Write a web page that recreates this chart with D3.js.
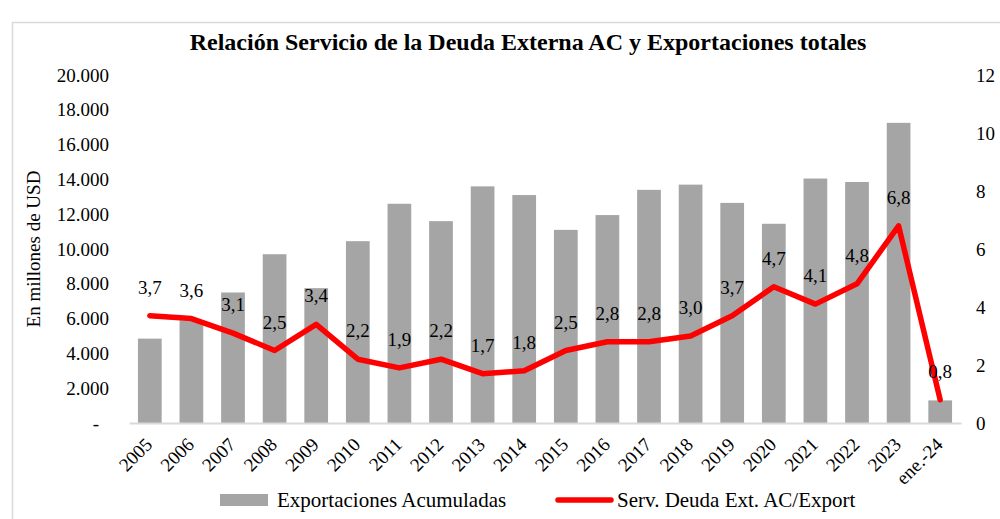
<!DOCTYPE html>
<html><head><meta charset="utf-8">
<script src="https://cdn.jsdelivr.net/npm/d3@7"></script>
<style>body{margin:0;background:#fff}svg{display:block}svg text{font-family:"Liberation Serif","Times New Roman",serif !important;fill:#000}</style>
</head><body><svg id="c" width="1000" height="519"></svg>
<script>
const categories = ["2005","2006","2007","2008","2009","2010","2011","2012","2013","2014","2015","2016","2017","2018","2019","2020","2021","2022","2023","ene.-24"];
const exportaciones = [4850,5900,7500,9700,7750,10450,12600,11600,13600,13100,11100,11950,13400,13700,12650,11450,14050,13850,17250,1300];
const ratio = [3.7,3.6,3.1,2.5,3.4,2.2,1.9,2.2,1.7,1.8,2.5,2.8,2.8,3.0,3.7,4.7,4.1,4.8,6.8,0.8];
const leftTicks = [0,2000,4000,6000,8000,10000,12000,14000,16000,18000,20000];
const rightTicks = [0,2,4,6,8,10,12];
const title = "Relación Servicio de la Deuda Externa AC y Exportaciones totales";
const yTitle = "En millones de USD";
const legendLabels = ["Exportaciones Acumuladas","Serv. Deuda Ext. AC/Export"];

const FF = '"Liberation Serif","Times New Roman",serif';
const svg = d3.select("#c").attr("font-family",FF);
const L = 129, R = 961, T = 75, B = 423;
svg.append("rect").attr("x",12.5).attr("y",22.5).attr("width",1000).attr("height",520)
  .attr("fill","#fff").attr("stroke","#d9d9d9").attr("stroke-width",1.5);

const x = d3.scaleBand().domain(categories).range([L,R]).paddingInner(0.43).paddingOuter(0.215);
const yL = d3.scaleLinear().domain([0,20000]).range([B,T]);
const yR = d3.scaleLinear().domain([0,12]).range([B,T]);
const fmt = v => v===0 ? "-" : d3.format(",")(v).replace(/,/g,".");

svg.append("text").attr("x",528).attr("y",50).attr("text-anchor","middle").attr("font-family",FF)
  .style("font-size","24px").style("font-weight","bold").text(title);

// left axis
const gl = svg.append("g").attr("transform",`translate(${L},0)`)
  .call(d3.axisLeft(yL).tickValues(leftTicks).tickFormat(fmt).tickSize(0).tickPadding(20));
gl.attr("font-family",FF);
gl.select(".domain").remove();
gl.selectAll("text").style("font-size","19px").attr("dy","0.32em")
  .attr("dx", d => d===0 ? -10 : 0);

// right axis
const gr = svg.append("g").attr("transform",`translate(${R},0)`)
  .call(d3.axisRight(yR).tickValues(rightTicks).tickSize(0).tickPadding(15));
gr.attr("font-family",FF);
gr.select(".domain").remove();
gr.selectAll("text").style("font-size","19px").attr("dy","0.32em");

svg.append("text").attr("transform","translate(40,249) rotate(-90)").attr("text-anchor","middle")
  .attr("font-family",FF).style("font-size","19px").text(yTitle);

// bars
svg.append("g").selectAll("rect").data(categories).join("rect")
  .attr("x",d=>x(d)).attr("width",x.bandwidth())
  .attr("y",(d,i)=>yL(exportaciones[i])).attr("height",(d,i)=>B-yL(exportaciones[i]))
  .attr("fill","#a5a5a5");

// baseline / x axis
const gx = svg.append("g").attr("transform",`translate(0,${B})`)
  .call(d3.axisBottom(x).tickSize(0).tickPadding(0));
gx.attr("font-family",FF);
gx.select(".domain").attr("stroke","#d9d9d9").attr("stroke-width",2);
gx.selectAll(".tick").attr("transform","translate(0,0)");
gx.selectAll("text").style("font-size","19px").attr("text-anchor","end")
  .attr("dy","0.35em").attr("x",0).attr("y",0)
  .attr("transform",function(d){return `translate(${x(d)+x.bandwidth()/2-1},18) rotate(-45)`;});

// line
const cx = d => x(d)+x.bandwidth()/2;
const line = d3.line().x((d,i)=>cx(categories[i])).y(d=>yR(d));
svg.append("path").datum(ratio).attr("d",line).attr("fill","none")
  .attr("stroke","#ff0000").attr("stroke-width",5.5).attr("stroke-linejoin","round").attr("stroke-linecap","round");

// data labels
svg.append("g").attr("font-family",FF).selectAll("text").data(ratio).join("text")
  .attr("x",(d,i)=>cx(categories[i])).attr("y",d=>yR(d)-22)
  .attr("text-anchor","middle").style("font-size","19px")
  .text(d=>d3.format(".1f")(d).replace(".",","));

// legend
svg.append("rect").attr("x",220).attr("y",494).attr("width",48).attr("height",12).attr("fill","#a5a5a5");
svg.append("text").attr("x",277).attr("y",507).attr("font-family",FF).style("font-size","21px").text(legendLabels[0]);
svg.append("line").attr("x1",558).attr("x2",611).attr("y1",500).attr("y2",500)
  .attr("stroke","#ff0000").attr("stroke-width",5.5).attr("stroke-linecap","round");
svg.append("text").attr("x",617).attr("y",507).attr("font-family",FF).style("font-size","21px").text(legendLabels[1]);
</script></body></html>
